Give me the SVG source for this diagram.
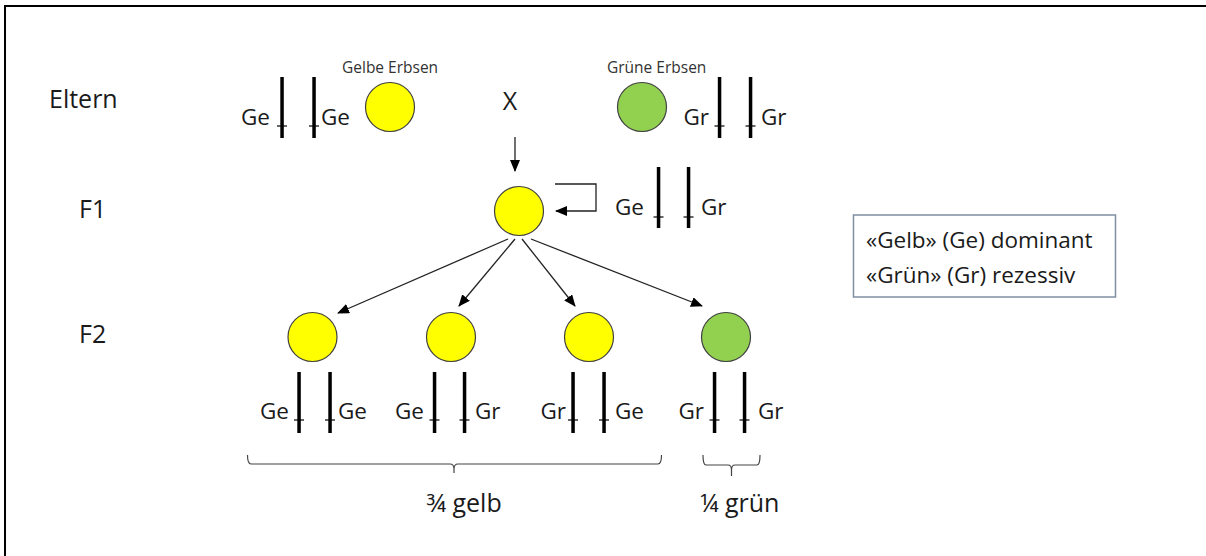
<svg xmlns="http://www.w3.org/2000/svg" width="1206" height="556" viewBox="0 0 1206 556">
<style>
text{font-family:"Open Sans","Noto Sans","DejaVu Sans",sans-serif;fill:#1a1a1a}
.lbl{font-size:25px}
.al{font-size:22.5px}
.small{font-size:15.5px;fill:#333}
.leg{font-size:22.5px}
.bar{fill:#000}
.tick{stroke:#000;stroke-width:1.2}
.yel{fill:#ffff00;stroke:#404040;stroke-width:1.2}
.grn{fill:#92d050;stroke:#404040;stroke-width:1.2}
.con{fill:none;stroke:#222;stroke-width:1.3}
.brace{fill:none;stroke:#444;stroke-width:1.2}
</style>
<defs>
<marker id="ah" markerUnits="userSpaceOnUse" markerWidth="12" markerHeight="10" refX="11" refY="5" orient="auto">
<path d="M0,0 L12,5 L0,10 Z" fill="#000"/>
</marker>
</defs>
<rect width="1206" height="556" fill="#fff"/>
<path d="M5,556 V6 H1206" fill="none" stroke="#000" stroke-width="2"/>

<g id="row-labels">
<text class="lbl" x="49" y="108">Eltern</text>
<text class="lbl" x="79" y="218">F1</text>
<text class="lbl" x="79" y="343">F2</text>
</g>

<g id="parent-yellow">
<text class="small" x="342" y="73">Gelbe Erbsen</text>
<circle class="yel" cx="390" cy="107" r="24.5"/>
<rect class="bar" x="280.3" y="77" width="3.5" height="61"/>
<rect class="bar" x="312.3" y="77" width="3.5" height="61"/>
<line class="tick" x1="277" y1="126" x2="287" y2="126"/>
<line class="tick" x1="309" y1="126" x2="319" y2="126"/>
<text class="al" x="270" y="125" text-anchor="end">Ge</text>
<text class="al" x="321" y="125">Ge</text>
</g>

<g id="cross">
<text class="lbl" x="510" y="110" text-anchor="middle">X</text>
</g>

<g id="parent-green">
<text class="small" x="607" y="73">Grüne Erbsen</text>
<circle class="grn" cx="642" cy="107" r="24.5"/>
<rect class="bar" x="717.8" y="77" width="3.5" height="61"/>
<rect class="bar" x="748.8" y="77" width="3.5" height="61"/>
<line class="tick" x1="714.5" y1="126" x2="724.5" y2="126"/>
<line class="tick" x1="745.5" y1="126" x2="755.5" y2="126"/>
<text class="al" x="709" y="125" text-anchor="end">Gr</text>
<text class="al" x="761" y="125">Gr</text>
</g>

<g id="f1">
<circle class="yel" cx="519" cy="211" r="24.5"/>
<rect class="bar" x="656.8" y="167" width="3.5" height="61"/>
<rect class="bar" x="686.8" y="167" width="3.5" height="61"/>
<line class="tick" x1="653.5" y1="217" x2="663.5" y2="217"/>
<line class="tick" x1="683.5" y1="217" x2="693.5" y2="217"/>
<text class="al" x="644" y="215" text-anchor="end">Ge</text>
<text class="al" x="701" y="215">Gr</text>
</g>

<g id="f2-1">
<circle class="yel" cx="312.5" cy="337" r="24.5"/>
<rect class="bar" x="297.3" y="372" width="3.5" height="61"/>
<rect class="bar" x="328.3" y="372" width="3.5" height="61"/>
<line class="tick" x1="294" y1="420" x2="304" y2="420"/>
<line class="tick" x1="325" y1="420" x2="335" y2="420"/>
<text class="al" x="289" y="419" text-anchor="end">Ge</text>
<text class="al" x="338" y="419">Ge</text>
</g>

<g id="f2-2">
<circle class="yel" cx="451" cy="337" r="24.5"/>
<rect class="bar" x="432.8" y="372" width="3.5" height="61"/>
<rect class="bar" x="462.8" y="372" width="3.5" height="61"/>
<line class="tick" x1="429.5" y1="420" x2="439.5" y2="420"/>
<line class="tick" x1="459.5" y1="420" x2="469.5" y2="420"/>
<text class="al" x="424" y="419" text-anchor="end">Ge</text>
<text class="al" x="475" y="419">Gr</text>
</g>

<g id="f2-3">
<circle class="yel" cx="589" cy="337" r="24.5"/>
<rect class="bar" x="571.3" y="372" width="3.5" height="61"/>
<rect class="bar" x="602.3" y="372" width="3.5" height="61"/>
<line class="tick" x1="568" y1="420" x2="578" y2="420"/>
<line class="tick" x1="599" y1="420" x2="609" y2="420"/>
<text class="al" x="566" y="419" text-anchor="end">Gr</text>
<text class="al" x="615" y="419">Ge</text>
</g>

<g id="f2-4">
<circle class="grn" cx="726" cy="337" r="24.5"/>
<rect class="bar" x="712.8" y="372" width="3.5" height="61"/>
<rect class="bar" x="742.8" y="372" width="3.5" height="61"/>
<line class="tick" x1="709.5" y1="420" x2="719.5" y2="420"/>
<line class="tick" x1="739.5" y1="420" x2="749.5" y2="420"/>
<text class="al" x="704" y="419" text-anchor="end">Gr</text>
<text class="al" x="758" y="419">Gr</text>
</g>

<g id="connectors">
<line class="con" x1="515" y1="137" x2="515" y2="171" marker-end="url(#ah)"/>
<polyline class="con" points="555,184 596,184 596,211 556,211" marker-end="url(#ah)"/>
<line class="con" x1="508" y1="239" x2="338" y2="313" marker-end="url(#ah)"/>
<line class="con" x1="515" y1="239" x2="459" y2="306" marker-end="url(#ah)"/>
<line class="con" x1="522" y1="239" x2="575" y2="306" marker-end="url(#ah)"/>
<line class="con" x1="531" y1="239" x2="702" y2="306" marker-end="url(#ah)"/>
</g>

<g id="brace-yellow">
<path class="brace" d="M247.5,455 Q247.5,464 251,464 H450 Q454,464 454,469 V473 M454,469 Q454,464 458,464 H658 Q661.5,464 661.5,455"/>
<text class="lbl" x="426.5" y="512">¾ gelb</text>
</g>

<g id="brace-green">
<path class="brace" d="M703,455 Q703,465 706,465 H728 Q731.5,465 731.5,470 V476 M731.5,470 Q731.5,465 735,465 H757 Q760,465 760,455"/>
<text class="lbl" x="700" y="512">¼ grün</text>
</g>

<g id="legend">
<rect x="853.5" y="215" width="262" height="82" fill="#fff" stroke="#7f8ea3" stroke-width="1.5"/>
<text class="leg" x="866" y="248">«Gelb» (Ge) dominant</text>
<text class="leg" x="866" y="283">«Grün» (Gr) rezessiv</text>
</g>
</svg>
